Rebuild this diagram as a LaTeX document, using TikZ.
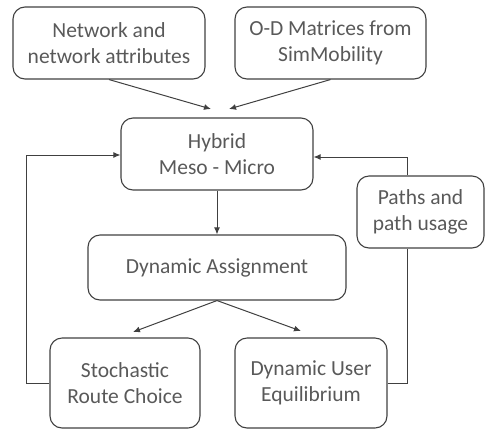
\documentclass[tikz,border=0pt]{standalone}
\usepackage{fontspec}
\setmainfont{Carlito}
\usepackage{xcolor}
\usetikzlibrary{arrows.meta, calc, positioning}
\definecolor{boxline}{HTML}{404040}
\definecolor{boxtext}{HTML}{595959}

\begin{document}
\begin{tikzpicture}[x=1pt, y=-1pt, line width=1.1pt, >={Latex[length=7pt,width=6pt]},
    box/.style={draw=boxline, rounded corners=12pt, align=center, text=boxtext,
        font=\fontsize{21.5}{25.5}\selectfont, inner sep=0pt},
    link/.style={draw=boxline, line width=1pt}]
        \useasboundingbox (0,0) rectangle (486,429);
        % inputs
        \node[box, minimum width=192pt, minimum height=72pt] (net) at (109,43) {Network and\\network attributes};
        \node[box, minimum width=191pt, minimum height=72pt] (od) at (330.5,43) {O-D Matrices from\\SimMobility};
        % core
        \node[box, minimum width=192pt, minimum height=72pt] (hyb) at (217,154) {Hybrid\\Meso - Micro};
        \node[box, minimum width=258pt, minimum height=65pt] (assign) at (217,267.5) {Dynamic Assignment};
        \node[box, minimum width=127pt, minimum height=72pt] (paths) at (420.5,212) {Paths and\\path usage};
        \node[box, minimum width=150pt, minimum height=90pt] (src) at (125,383) {Stochastic\\Route Choice};
        \node[box, minimum width=152pt, minimum height=90pt] (due) at (311,383) {Dynamic User\\Equilibrium};
        % free ends
        \coordinate (inL) at (211,109);
        \coordinate (inR) at (229,109);
        \coordinate (srcTip) at (133,332);
        \coordinate (dueTip) at (301,331);
        \coordinate (rx) at (407,0);
        % connectors
        \draw[link, ->] (net.south) -- (inL);
        \draw[link, ->] (od.south) -- (inR);
        \draw[link, ->] (hyb.south) -- (assign.north);
        \draw[link, ->] (assign.south) -- (srcTip);
        \draw[link, ->] (assign.south) -- (dueTip);
        \draw[link, ->] (src.west) -- ++(-23,0) |- ([yshift=-1pt]hyb.west);
        \draw[link] (due.east) -| (paths.south -| rx);
        \draw[link, ->] (paths.north -| rx) |- ([yshift=-3pt]hyb.east);
    \end{tikzpicture}
\end{document}
